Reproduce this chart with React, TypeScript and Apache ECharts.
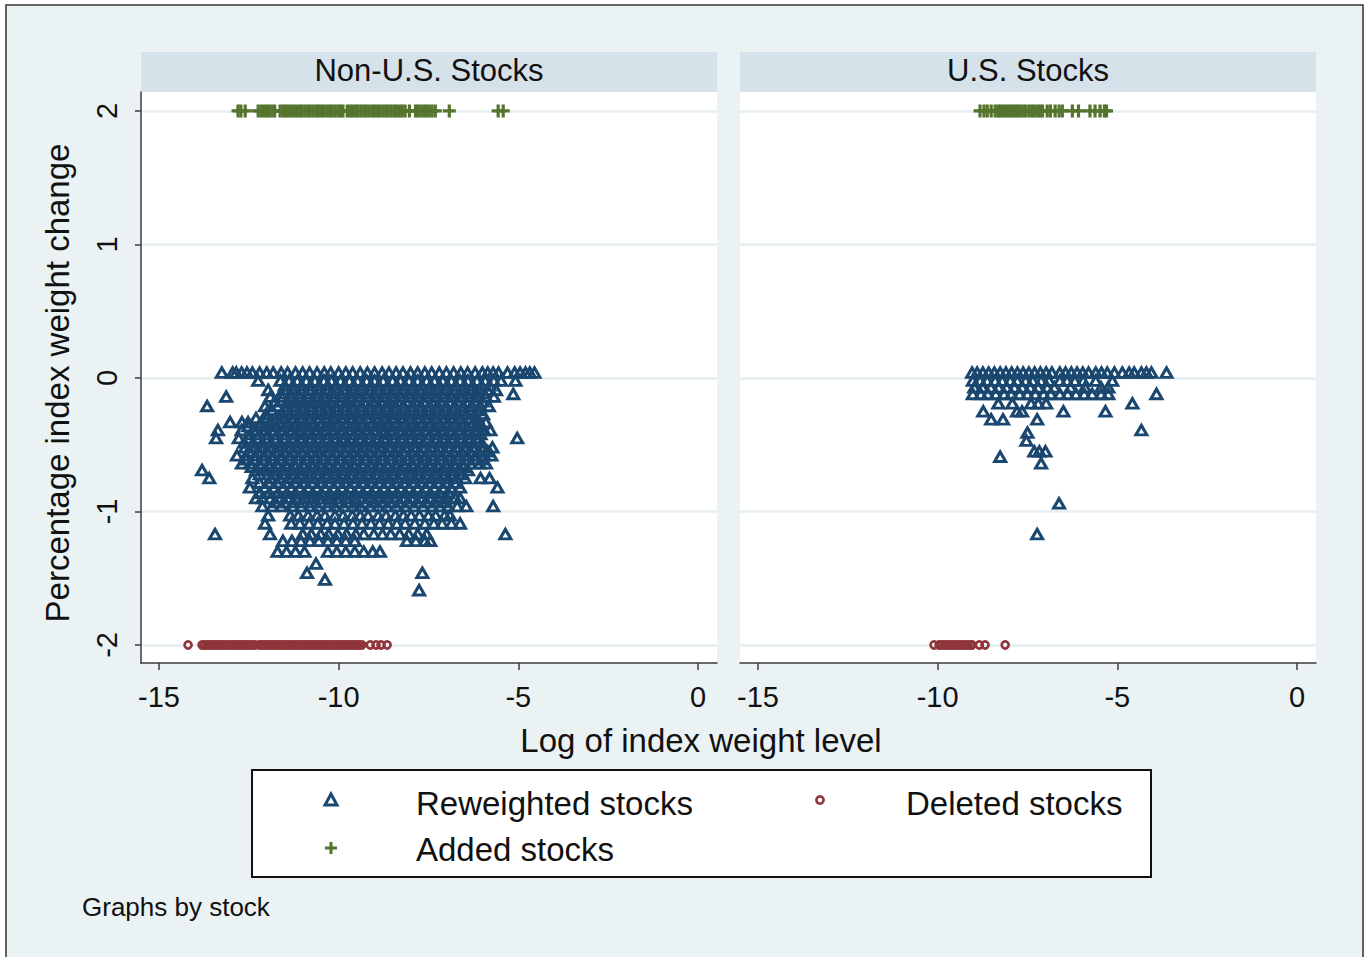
import React, { useEffect, useRef } from 'react';
import * as echarts from 'echarts';

const FONT = '"Liberation Sans", Arial, Helvetica, sans-serif';
const NAVY = '#1a476f';
const MAROON = '#90353b';
const GREEN = '#55752f';

const panelTitles = ['Non-U.S. Stocks', 'U.S. Stocks'];
const xTicks = [-15, -10, -5, 0];
const yTicks = [-2, -1, 0, 1, 2];

// ---- Non-U.S. reweighted stocks: rows of points (y level, x positions) ----
const nonUSRowY = [0.04, -0.02, -0.09, -0.14, -0.21, -0.27, -0.33, -0.39, -0.45, -0.52, -0.58, -0.64, -0.69, -0.75, -0.82, -0.9, -0.96, -1.03, -1.09, -1.17, -1.22, -1.3];
const nonUSRowX: number[][] = [
  [-13.25, -12.95, -12.85, -12.7, -12.55, -12.4, -12.2, -12.0, -11.82, -11.6, -11.42, -11.2, -11.0, -10.81, -10.6, -10.4, -10.22, -10.0, -9.8, -9.61, -9.4, -9.2, -9.0, -8.79, -8.6, -8.4, -8.21, -8.0, -7.8, -7.6, -7.41, -7.2, -7.0, -6.8, -6.6, -6.41, -6.2, -6.0, -5.85, -5.7, -5.55, -5.3, -5.1, -4.95, -4.8, -4.68, -4.55],
  [-12.24, -11.62, -11.38, -11.15, -10.9, -10.66, -10.41, -10.2, -9.95, -9.7, -9.47, -9.22, -9.0, -8.76, -8.5, -8.28, -8.04, -7.8, -7.55, -7.33, -7.1, -6.86, -6.62, -6.4, -6.15, -5.92, -5.68, -5.48, -5.08],
  [-11.96, -11.48, -11.25, -11.02, -10.78, -10.55, -10.3, -10.08, -9.85, -9.6, -9.38, -9.12, -8.9, -8.66, -8.42, -8.2, -7.95, -7.72, -7.48, -7.25, -7.0, -6.78, -6.55, -6.3, -6.08, -5.85, -5.62],
  [-13.13, -11.9, -11.55, -11.3, -11.08, -10.85, -10.6, -10.38, -10.12, -9.9, -9.66, -9.42, -9.2, -8.95, -8.72, -8.48, -8.25, -8.02, -7.78, -7.55, -7.3, -7.08, -6.84, -6.6, -6.38, -6.12, -5.9, -5.68],
  [-13.66, -12.05, -11.7, -11.45, -11.22, -10.98, -10.75, -10.5, -10.28, -10.05, -9.8, -9.58, -9.35, -9.1, -8.88, -8.62, -8.4, -8.18, -7.92, -7.7, -7.45, -7.22, -7.0, -6.75, -6.52, -6.28, -6.05, -5.82],
  [-12.02, -11.6, -11.35, -11.12, -10.9, -10.65, -10.42, -10.18, -9.95, -9.72, -9.5, -9.25, -9.02, -8.8, -8.55, -8.32, -8.1, -7.85, -7.62, -7.38, -7.15, -6.92, -6.7, -6.45, -6.2, -5.98],
  [-13.02, -12.69, -12.52, -12.15, -11.88, -11.62, -11.4, -11.15, -10.92, -10.7, -10.45, -10.22, -10.0, -9.76, -9.52, -9.3, -9.05, -8.82, -8.6, -8.36, -8.12, -7.9, -7.66, -7.42, -7.2, -6.96, -6.72, -6.5, -6.25, -6.1, -5.9],
  [-13.36, -12.7, -12.33, -12.1, -11.85, -11.58, -11.33, -11.1, -10.86, -10.62, -10.4, -10.16, -9.92, -9.7, -9.46, -9.22, -9.0, -8.76, -8.52, -8.3, -8.06, -7.82, -7.6, -7.36, -7.12, -6.9, -6.66, -6.42, -6.18, -5.95, -5.78],
  [-13.41, -12.78, -12.5, -12.25, -12.0, -11.76, -11.5, -11.28, -11.05, -10.8, -10.57, -10.32, -10.1, -9.86, -9.62, -9.4, -9.15, -8.92, -8.7, -8.45, -8.22, -8.0, -7.75, -7.5, -7.28, -7.05, -6.82, -6.58, -6.35, -6.12, -5.03],
  [-12.6, -12.35, -12.1, -11.85, -11.62, -11.38, -11.14, -10.9, -10.68, -10.44, -10.2, -9.98, -9.74, -9.5, -9.28, -9.04, -8.8, -8.58, -8.34, -8.1, -7.88, -7.64, -7.4, -7.18, -6.94, -6.7, -6.48, -6.24, -6.0, -5.72],
  [-12.83, -12.58, -12.32, -12.08, -11.84, -11.6, -11.36, -11.12, -10.88, -10.64, -10.42, -10.18, -9.94, -9.7, -9.47, -9.24, -9.0, -8.76, -8.52, -8.3, -8.05, -7.82, -7.58, -7.35, -7.12, -6.88, -6.64, -6.42, -6.18, -5.95, -5.75],
  [-12.69, -12.45, -12.2, -11.95, -11.72, -11.48, -11.24, -11.0, -10.76, -10.54, -10.3, -10.06, -9.82, -9.6, -9.36, -9.12, -8.9, -8.66, -8.42, -8.2, -7.96, -7.72, -7.5, -7.26, -7.02, -6.8, -6.56, -6.32, -6.08, -5.9],
  [-13.8, -12.3, -12.05, -11.8, -11.55, -11.3, -11.08, -10.84, -10.6, -10.36, -10.14, -9.9, -9.66, -9.42, -9.2, -8.96, -8.72, -8.5, -8.26, -8.02, -7.8, -7.56, -7.32, -7.1, -6.86, -6.62, -6.4],
  [-13.6, -12.4, -11.88, -11.64, -11.4, -11.16, -10.92, -10.7, -10.46, -10.22, -10.0, -9.76, -9.52, -9.3, -9.06, -8.82, -8.6, -8.36, -8.12, -7.9, -7.66, -7.42, -7.2, -6.96, -6.72, -6.48, -6.05, -5.8],
  [-12.47, -12.05, -11.8, -11.55, -11.32, -11.08, -10.85, -10.6, -10.38, -10.14, -9.9, -9.68, -9.44, -9.2, -8.98, -8.74, -8.5, -8.28, -8.04, -7.8, -7.58, -7.34, -7.1, -6.88, -6.62, -5.58],
  [-12.3, -12.12, -11.9, -11.65, -11.42, -11.2, -10.96, -10.72, -10.5, -10.26, -10.02, -9.8, -9.56, -9.32, -9.1, -8.86, -8.62, -8.4, -8.16, -7.92, -7.7, -7.45, -7.22, -6.98, -6.75, -6.62],
  [-12.12, -11.85, -11.6, -11.28, -11.05, -10.8, -10.58, -10.3, -10.1, -9.85, -9.6, -9.4, -9.12, -8.9, -8.65, -8.4, -8.15, -7.9, -7.65, -7.4, -7.18, -6.95, -6.7, -6.45, -5.7],
  [-11.96, -11.35, -11.12, -10.85, -10.6, -10.38, -10.1, -9.88, -9.62, -9.4, -9.18, -8.9, -8.68, -8.42, -8.2, -7.98, -7.75, -7.5, -7.3, -7.05, -6.9],
  [-12.05, -11.32, -11.08, -10.82, -10.58, -10.32, -10.1, -9.85, -9.6, -9.35, -9.1, -8.86, -8.62, -8.38, -8.15, -7.88, -7.6, -7.35, -7.12, -6.86, -6.62],
  [-13.44, -11.91, -11.0, -10.76, -10.5, -10.28, -10.02, -9.78, -9.52, -9.3, -9.02, -8.78, -8.55, -8.3, -8.05, -7.8, -7.55, -5.36],
  [-11.55, -11.3, -11.05, -10.8, -10.55, -10.3, -10.05, -9.8, -9.55, -8.1, -7.85, -7.6, -7.45],
  [-11.7, -11.45, -11.2, -10.95, -10.3, -10.05, -9.8, -9.55, -9.3, -9.05, -8.85],
];
// in-between rows of the dense core of the non-U.S. cloud
const nonUSCoreY = [-0.055, -0.115, -0.175, -0.24, -0.3, -0.36, -0.42, -0.485, -0.55, -0.61, -0.665, -0.72, -0.785, -0.86, -0.93];
const nonUSCoreX: number[][] = [
  [-11.5, -11.27, -11.03, -10.78, -10.54, -10.3, -10.07, -9.83, -9.58, -9.34, -9.1, -8.88, -8.63, -8.38, -8.16, -7.92, -7.68, -7.44, -7.2, -6.98, -6.74, -6.5, -6.27, -6.02, -5.8],
  [-11.6, -11.36, -11.13, -10.9, -10.66, -10.43, -10.2, -9.96, -9.72, -9.5, -9.26, -9.02, -8.78, -8.55, -8.32, -8.08, -7.85, -7.6, -7.38, -7.14, -6.9, -6.66, -6.44, -6.2, -5.96],
  [-11.78, -11.43, -11.2, -10.96, -10.72, -10.49, -10.25, -10.0, -9.78, -9.54, -9.3, -9.06, -8.83, -8.6, -8.36, -8.12, -7.88, -7.64, -7.4, -7.17, -6.93, -6.7, -6.46, -6.22, -6.0],
  [-11.85, -11.48, -11.24, -11.0, -10.77, -10.54, -10.3, -10.06, -9.83, -9.6, -9.36, -9.13, -8.9, -8.66, -8.43, -8.2, -7.96, -7.73, -7.5, -7.26, -7.03, -6.8, -6.56, -6.33, -6.1],
  [-12.3, -12.0, -11.75, -11.5, -11.27, -11.04, -10.8, -10.57, -10.33, -10.1, -9.87, -9.64, -9.4, -9.17, -8.94, -8.7, -8.47, -8.24, -8.0, -7.77, -7.54, -7.3, -7.07, -6.84, -6.6, -6.36, -6.14],
  [-12.52, -12.22, -11.98, -11.73, -11.46, -11.22, -10.98, -10.74, -10.5, -10.28, -10.04, -9.8, -9.58, -9.34, -9.1, -8.88, -8.64, -8.4, -8.18, -7.94, -7.7, -7.48, -7.24, -7.0, -6.78, -6.54, -6.3, -6.06],
  [-12.45, -12.2, -11.96, -11.7, -11.46, -11.2, -10.97, -10.74, -10.5, -10.27, -10.03, -9.8, -9.56, -9.33, -9.1, -8.86, -8.63, -8.4, -8.16, -7.93, -7.7, -7.46, -7.23, -7.0, -6.76, -6.52, -6.28, -6.05],
  [-12.63, -12.38, -12.12, -11.88, -11.63, -11.39, -11.16, -10.92, -10.68, -10.45, -10.22, -9.98, -9.75, -9.52, -9.28, -9.05, -8.82, -8.58, -8.35, -8.12, -7.88, -7.65, -7.42, -7.18, -6.95, -6.72, -6.48, -6.25, -6.02],
  [-12.46, -12.22, -11.98, -11.73, -11.49, -11.25, -11.01, -10.77, -10.54, -10.3, -10.07, -9.84, -9.6, -9.37, -9.14, -8.9, -8.67, -8.44, -8.2, -7.97, -7.74, -7.5, -7.27, -7.04, -6.8, -6.57, -6.34, -6.1, -5.85],
  [-12.58, -12.32, -12.08, -11.84, -11.6, -11.36, -11.12, -10.88, -10.65, -10.42, -10.18, -9.95, -9.72, -9.48, -9.25, -9.02, -8.78, -8.55, -8.32, -8.08, -7.85, -7.62, -7.38, -7.15, -6.92, -6.68, -6.45, -6.2, -6.0],
  [-12.42, -12.17, -11.92, -11.68, -11.43, -11.2, -10.96, -10.72, -10.48, -10.25, -10.02, -9.78, -9.55, -9.32, -9.08, -8.85, -8.62, -8.38, -8.15, -7.92, -7.68, -7.45, -7.22, -6.98, -6.75, -6.52],
  [-12.2, -11.96, -11.72, -11.48, -11.24, -11.0, -10.78, -10.54, -10.3, -10.07, -9.84, -9.6, -9.37, -9.14, -8.9, -8.67, -8.44, -8.2, -7.97, -7.74, -7.5, -7.27, -7.04, -6.8, -6.58],
  [-12.2, -11.95, -11.7, -11.46, -11.2, -10.97, -10.73, -10.5, -10.26, -10.03, -9.8, -9.56, -9.33, -9.1, -8.86, -8.63, -8.4, -8.16, -7.93, -7.7, -7.46, -7.22, -6.98, -6.75],
  [-12.2, -11.93, -11.68, -11.44, -11.2, -10.96, -10.72, -10.48, -10.25, -10.02, -9.78, -9.55, -9.32, -9.08, -8.85, -8.62, -8.38, -8.15, -7.92, -7.68, -7.45, -7.2, -6.95],
  [-11.75, -11.5, -11.25, -11.0, -10.75, -10.5, -10.25, -10.0, -9.75, -9.5, -9.26, -9.02, -8.78, -8.54, -8.3, -8.05, -7.8, -7.55, -7.3, -7.05],
];
const nonUSExtra: [number, number][] = [
  [-5.14, -0.12], [-10.63, -1.39], [-10.88, -1.46], [-10.38, -1.51], [-7.67, -1.46], [-7.76, -1.59],
];

// ---- U.S. reweighted stocks ----
const usRowY = [0.04, -0.02, -0.07, -0.12, -0.19, -0.25, -0.31];
const usRowX: number[][] = [
  [-9.04, -8.9, -8.74, -8.58, -8.42, -8.26, -8.1, -7.94, -7.78, -7.62, -7.46, -7.3, -7.14, -6.98, -6.82, -6.6, -6.44, -6.28, -6.12, -5.96, -5.8, -5.6, -5.44, -5.28, -5.08, -4.86, -4.67, -4.53, -4.33, -4.19, -4.05, -3.63],
  [-9.02, -8.82, -8.62, -8.4, -8.2, -7.98, -7.78, -7.55, -7.35, -7.12, -6.9, -6.6, -6.4, -6.18, -5.95, -5.6, -5.14],
  [-8.98, -8.75, -8.52, -8.3, -8.08, -7.86, -7.64, -7.42, -7.2, -6.95, -6.75, -6.3, -5.9, -5.45, -5.25],
  [-9.02, -8.8, -8.6, -8.38, -8.15, -7.95, -7.72, -7.5, -7.28, -7.05, -6.85, -6.6, -6.38, -6.15, -5.92, -5.7, -5.45, -5.25, -3.91],
  [-8.31, -7.92, -7.4, -7.2, -6.98, -4.58],
  [-8.73, -7.79, -7.65, -6.5, -5.33],
  [-8.51, -8.18, -7.23],
];
const usExtra: [number, number][] = [
  [-7.5, -0.41], [-7.53, -0.47], [-7.31, -0.55], [-7.17, -0.55], [-7.0, -0.55], [-8.26, -0.59],
  [-7.12, -0.64], [-4.33, -0.39], [-6.62, -0.94], [-7.23, -1.17],
];

// ---- Added stocks (plotted at +2) ----
const ADDED_Y = 2;
const addedNonUS = [
  -12.8, -12.72, -12.6,
  -12.24, -12.16, -12.09, -12.01, -11.94, -11.86, -11.78, -11.63, -11.55, -11.48, -11.4, -11.32, -11.25, -11.17,
  -11.09, -11.02, -10.94, -10.86, -10.79, -10.71, -10.63, -10.56, -10.48, -10.41, -10.33, -10.25, -10.18, -10.1,
  -10.02, -9.95, -9.88, -9.76, -9.69, -9.61, -9.53, -9.46, -9.38, -9.3, -9.23, -9.15, -9.07, -9.0, -8.92, -8.85,
  -8.77, -8.69, -8.62, -8.54, -8.46, -8.39, -8.31, -8.23, -8.15, -8.03, -7.86, -7.79, -7.71, -7.63, -7.56, -7.48,
  -7.4, -7.31, -6.92, -5.56, -5.42,
];
const addedUS = [
  -8.82, -8.71, -8.62, -8.51, -8.4, -8.32, -8.25, -8.18, -8.11, -8.04, -7.97, -7.9, -7.83, -7.76, -7.7, -7.62,
  -7.55, -7.46, -7.38, -7.31, -7.22, -7.15, -7.08, -6.95, -6.86, -6.73, -6.62, -6.53, -6.25, -6.08, -5.76, -5.62,
  -5.48, -5.36, -5.3,
];

// ---- Deleted stocks (plotted at -2) ----
const DELETED_Y = -2;
const deletedNonUS = [
  -14.19,
  -13.8, -13.73, -13.66, -13.59, -13.52, -13.45, -13.38, -13.31, -13.24, -13.17, -13.1, -13.03, -12.96, -12.89,
  -12.82, -12.75, -12.68, -12.61, -12.54, -12.47, -12.4, -12.33, -12.21, -12.14, -12.07, -12.0, -11.93, -11.86,
  -11.79, -11.72, -11.65, -11.58, -11.51, -11.44, -11.37, -11.3, -11.23, -11.16, -11.09, -11.02, -10.95, -10.88,
  -10.81, -10.74, -10.67, -10.6, -10.53, -10.46, -10.39, -10.32, -10.25, -10.18, -10.11, -10.04, -9.97, -9.9,
  -9.83, -9.76, -9.69, -9.62, -9.55, -9.48, -9.41, -9.35, -9.12, -8.96, -8.82, -8.65,
];
const deletedUS = [-10.1, -9.96, -9.88, -9.8, -9.72, -9.64, -9.56, -9.48, -9.4, -9.32, -9.24, -9.16, -9.08, -9.04, -8.84, -8.68, -8.12];

const PLUS = 'path://M4.9,0H8.1V4.9H13V8.1H8.1V13H4.9V8.1H0V4.9H4.9Z';

function rowsToPoints(ys: number[], xs: number[][]) {
  const pts: [number, number][] = [];
  xs.forEach((row, i) => row.forEach((x) => pts.push([x, ys[i]])));
  return pts;
}

function buildOption() {
  const reweighted = [
    rowsToPoints(nonUSRowY, nonUSRowX).concat(rowsToPoints(nonUSCoreY, nonUSCoreX), nonUSExtra),
    rowsToPoints(usRowY, usRowX).concat(usExtra),
  ];
  const deleted = [deletedNonUS, deletedUS];
  const added = [addedNonUS, addedUS];
  const gridLefts = [141, 740];
  const axisColor = '#3c3c3c';
  const gridLineColor = '#e6eef1';

  const series: any[] = [];
  [0, 1].forEach((i) => {
    series.push({
      name: 'Reweighted stocks', type: 'scatter', xAxisIndex: i, yAxisIndex: i, silent: true,
      data: reweighted[i], symbol: 'triangle', symbolSize: [11, 9.5],
      itemStyle: { color: 'rgba(0,0,0,0)', borderColor: NAVY, borderWidth: 3, opacity: 1 },
    });
    series.push({
      name: 'Deleted stocks', type: 'scatter', xAxisIndex: i, yAxisIndex: i, silent: true,
      data: deleted[i].map((x) => [x, DELETED_Y]), symbol: 'circle', symbolSize: 7,
      itemStyle: { color: 'rgba(0,0,0,0)', borderColor: MAROON, borderWidth: 2.7, opacity: 1 },
    });
    series.push({
      name: 'Added stocks', type: 'scatter', xAxisIndex: i, yAxisIndex: i, silent: true,
      data: added[i].map((x) => [x, ADDED_Y]), symbol: PLUS, symbolSize: 13,
      itemStyle: { color: GREEN, opacity: 1 },
    });
  });

  const graphic: any[] = [
    { type: 'rect', silent: true, z: 100, shape: { x: 0, y: 0, width: 1372, height: 5 }, style: { fill: '#fff' } },
    { type: 'rect', silent: true, z: 100, shape: { x: 0, y: 0, width: 6, height: 957 }, style: { fill: '#fff' } },
    { type: 'rect', silent: true, z: 100, shape: { x: 1364, y: 0, width: 8, height: 957 }, style: { fill: '#fff' } },
    { type: 'rect', silent: true, z: 101, shape: { x: 6, y: 5, width: 1357, height: 960 }, style: { fill: 'none', stroke: '#333', lineWidth: 1.5 } },
  ];
  gridLefts.forEach((gl, i) => {
    graphic.push({ type: 'rect', silent: true, shape: { x: gl, y: 52, width: 576, height: 40 }, style: { fill: '#d6e2e9' } });
    graphic.push({
      type: 'text', silent: true, x: gl + 288, y: 70,
      style: { text: panelTitles[i], fontSize: 31, fontFamily: FONT, fill: '#111', align: 'center', verticalAlign: 'middle' },
    });
  });
  graphic.push({
    type: 'text', silent: true, x: 701, y: 740,
    style: { text: 'Log of index weight level', fontSize: 33, fontFamily: FONT, fill: '#111', align: 'center', verticalAlign: 'middle' },
  });
  graphic.push({
    type: 'text', silent: true, x: 57, y: 383, rotation: Math.PI / 2,
    style: { text: 'Percentage index weight change', fontSize: 33, fontFamily: FONT, fill: '#111', align: 'center', verticalAlign: 'middle' },
  });
  // legend
  graphic.push({ type: 'rect', silent: true, shape: { x: 252, y: 770, width: 899, height: 107 }, style: { fill: '#fff', stroke: '#111', lineWidth: 2 } });
  graphic.push({ type: 'polygon', silent: true, shape: { points: [[331, 794], [325, 805], [337, 805]] }, style: { fill: 'none', stroke: NAVY, lineWidth: 3 } });
  graphic.push({ type: 'circle', silent: true, shape: { cx: 820, cy: 800, r: 3.6 }, style: { fill: 'none', stroke: MAROON, lineWidth: 2.7 } });
  graphic.push({ type: 'line', silent: true, shape: { x1: 325, y1: 848, x2: 337, y2: 848 }, style: { stroke: GREEN, lineWidth: 3 } });
  graphic.push({ type: 'line', silent: true, shape: { x1: 331, y1: 842, x2: 331, y2: 854 }, style: { stroke: GREEN, lineWidth: 3 } });
  const legendTexts: [string, number, number][] = [['Reweighted stocks', 416, 803], ['Deleted stocks', 906, 803], ['Added stocks', 416, 849]];
  legendTexts.forEach(([t, x, y]) => graphic.push({
    type: 'text', silent: true, x, y,
    style: { text: t, fontSize: 33, fontFamily: FONT, fill: '#111', align: 'left', verticalAlign: 'middle' },
  }));
  graphic.push({
    type: 'text', silent: true, x: 82, y: 907,
    style: { text: 'Graphs by stock', fontSize: 26, fontFamily: FONT, fill: '#111', align: 'left', verticalAlign: 'middle' },
  });

  return {
    animation: false,
    backgroundColor: '#eaf2f3',
    textStyle: { fontFamily: FONT },
    grid: gridLefts.map((gl) => ({ left: gl, top: 92, width: 576, height: 571, show: true, backgroundColor: '#fff', borderWidth: 0, containLabel: false })),
    xAxis: [0, 1].map((i) => ({
      type: 'value', gridIndex: i, min: -15.5, max: 0.53,
      axisLine: { show: true, onZero: false, lineStyle: { color: axisColor, width: 1.5 } },
      axisTick: { show: true, length: 7, lineStyle: { color: axisColor, width: 1.5 }, customValues: xTicks },
      axisLabel: { customValues: xTicks, fontSize: 29, color: '#111', fontFamily: FONT, margin: 19 },
      splitLine: { show: false },
    })),
    yAxis: [0, 1].map((i) => ({
      type: 'value', gridIndex: i, min: -2.135, max: 2.142,
      axisLine: { show: i === 0, onZero: false, lineStyle: { color: axisColor, width: 1.5 } },
      axisTick: { show: i === 0, length: 6, lineStyle: { color: axisColor, width: 1.5 }, customValues: yTicks },
      axisLabel: { show: i === 0, customValues: yTicks, rotate: 90, fontSize: 29, color: '#111', fontFamily: FONT, margin: 20 },
      splitLine: { show: true, lineStyle: { color: gridLineColor, width: 2.5 } },
    })),
    series,
    graphic,
  };
}

export default function App() {
  const ref = useRef<HTMLDivElement>(null);
  useEffect(() => {
    if (!ref.current) return;
    const chart = echarts.init(ref.current, null, { renderer: 'svg' });
    chart.setOption(buildOption() as any);
    return () => chart.dispose();
  }, []);
  return <div ref={ref} style={{ position: 'fixed', left: 0, top: 0, width: 1372, height: 957 }} />;
}
